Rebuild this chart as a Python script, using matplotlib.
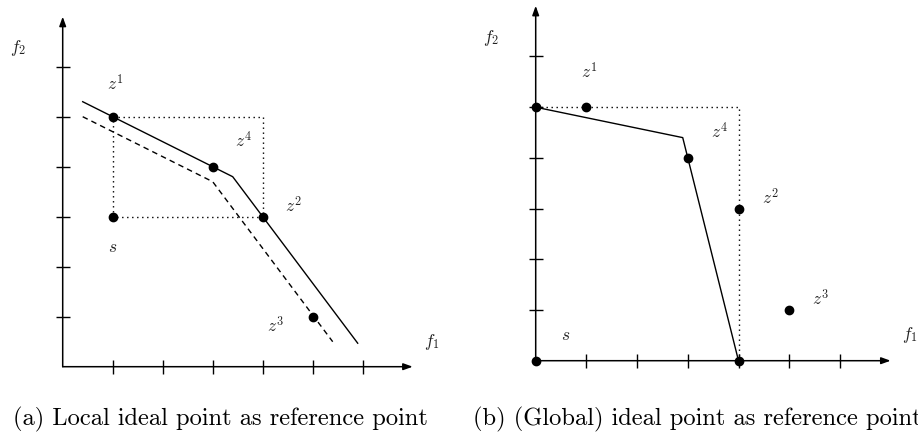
import matplotlib.pyplot as plt

plt.rcParams['mathtext.fontset'] = 'cm'

# objective vectors z^1..z^4 (f1, f2)
z_f1 = [1, 4, 5, 3]
z_f2 = [5, 3, 1, 4]
z_labels = ['$z^1$', '$z^2$', '$z^3$', '$z^4$']

# (a) local ideal point and the two front approximations
s_a = (1, 3)
front_a_f1 = [0.4, 3.4, 5.9]
front_a_f2 = [5.3, 3.8, 0.47]
shifted_a_f1 = [0.4, 3.0, 5.4]
shifted_a_f2 = [5.0, 3.7, 0.5]

# (b) global ideal point, extreme points and front
s_b = (0, 0)
extreme_b_f1 = [0, 4]
extreme_b_f2 = [5, 0]
front_b_f1 = [0, 2.9, 4]
front_b_f2 = [5, 4.4, 0]

ticks = [1, 2, 3, 4, 5, 6]

W, H = 918, 433
fig = plt.figure(figsize=(W / 100, H / 100), dpi=100)

TXT = '#222222'
DOT = (0, (1, 2.6))
LBL = 12.5


def panel(ox, oy, unit):
    # ox, oy: pixel position of the origin, unit: pixels per data unit
    x0, x1, y0, y1 = -1.3, 7.8, -1.3, 7.4
    ax = fig.add_axes([(ox + x0 * unit) / W, (H - oy + y0 * unit) / H,
                       (x1 - x0) * unit / W, (y1 - y0) * unit / H])
    ax.set_xlim(x0, x1)
    ax.set_ylim(y0, y1)
    ax.axis('off')
    arrow = dict(arrowstyle='-|>,head_length=0.55,head_width=0.2', lw=1.1,
                 color='black', shrinkA=0, shrinkB=0)
    ax.annotate('', xy=(7, 0), xytext=(0, 0), arrowprops=arrow)
    ax.annotate('', xy=(0, 7), xytext=(0, 0), arrowprops=arrow)
    ax.plot(ticks, [0] * len(ticks), '|', ms=10, mew=1.0, color='black')
    ax.plot([0] * len(ticks), ticks, '_', ms=10, mew=1.0, color='black')
    ax.text(-0.89, 6.37, '$f_2$', fontsize=LBL, color=TXT, ha='center', va='center')
    ax.text(7.38, 0.5, '$f_1$', fontsize=LBL, color=TXT, ha='center', va='center')
    return ax


def label_points(ax, offsets):
    for x, y, lab, (dx, dy) in zip(z_f1, z_f2, z_labels, offsets):
        ax.text(x + dx, y + dy, lab, fontsize=LBL, color=TXT, ha='center', va='center')


# (a) Local ideal point
ax = panel(62.7, 366.7, 50)
ax.plot([z_f1[0], z_f1[1], z_f1[1], z_f1[0], z_f1[0]],
        [z_f2[0], z_f2[0], z_f2[1], z_f2[1], z_f2[0]],
        color='black', lw=1.0, ls=DOT)
ax.plot(front_a_f1, front_a_f2, color='black', lw=1.0)
ax.plot(shifted_a_f1, shifted_a_f2, color='black', lw=1.0, ls=(0, (4, 3)),
        solid_joinstyle='round', dash_joinstyle='round')
ax.plot(z_f1, z_f2, 'o', ms=6, color='black', zorder=5)
ax.plot(*s_a, 'o', ms=6, color='black', zorder=5)
label_points(ax, [(0.05, 0.65), (0.62, 0.2), (-0.75, -0.2), (0.62, 0.5)])
ax.text(s_a[0], s_a[1] - 0.6, '$s$', fontsize=LBL, color=TXT, ha='center', va='center')

# (b) Global ideal point
ax = panel(535.7, 360.7, 50.7)
ax.plot([extreme_b_f1[0], extreme_b_f1[1], extreme_b_f1[1]],
        [extreme_b_f2[0], extreme_b_f2[0], extreme_b_f2[1]],
        color='black', lw=1.0, ls=DOT)
ax.plot(front_b_f1, front_b_f2, color='black', lw=1.0)
ax.plot(z_f1, z_f2, 'o', ms=6, color='black', zorder=5, clip_on=False)
ax.plot(extreme_b_f1, extreme_b_f2, 'o', ms=6, color='black', zorder=5, clip_on=False)
ax.plot(*s_b, 'o', ms=6, color='black', zorder=5, clip_on=False)
label_points(ax, [(0.05, 0.68), (0.62, 0.2), (0.62, 0.22), (0.62, 0.5)])
ax.text(s_b[0] + 0.6, s_b[1] + 0.5, '$s$', fontsize=LBL, color=TXT, ha='center', va='center')

# captions
fig.text(13 / W, 1 - 425 / H, '(a) Local ideal point as reference point',
         family='cmr10', fontsize=17.6, ha='left', va='baseline')
fig.text(473 / W, 1 - 425 / H, '(b) (Global) ideal point as reference point',
         family='cmr10', fontsize=17.6, ha='left', va='baseline')

fig.savefig('out.png', dpi=100)
